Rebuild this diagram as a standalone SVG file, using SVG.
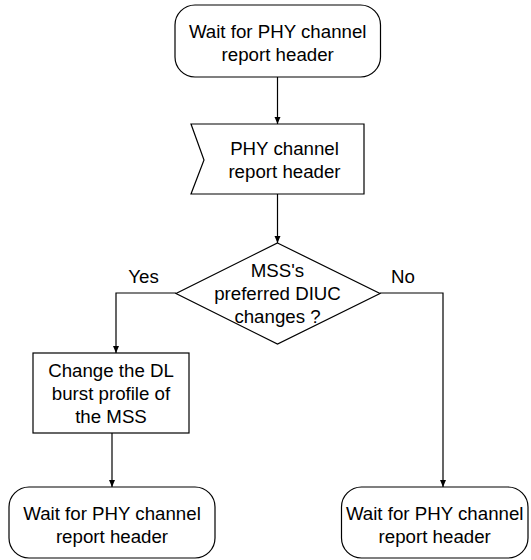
<svg xmlns="http://www.w3.org/2000/svg" width="531" height="560" viewBox="0 0 531 560">
<defs>
<marker id="ah" markerWidth="8" markerHeight="8" refX="7" refY="4" orient="auto" markerUnits="userSpaceOnUse">
<path d="M0,1 L7,4 L0,7 Z" fill="#000"/>
</marker>
<style>
.s{fill:#fff;stroke:#000;stroke-width:1.2}
.t{font-family:"Liberation Sans",Arial,sans-serif;font-size:18.7px;fill:#000;text-anchor:middle}
.c{fill:none;stroke:#000;stroke-width:1.2}
</style>
</defs>
<rect width="531" height="560" fill="#fff"/>
<g id="connectors">
<path class="c" d="M277.5,77 V124" marker-end="url(#ah)"/>
<path class="c" d="M277.5,194 V243" marker-end="url(#ah)"/>
<path class="c" d="M176,293 H116 V353" marker-end="url(#ah)"/>
<path class="c" d="M112,433 V487" marker-end="url(#ah)"/>
<path class="c" d="M380,293 H443 V487" marker-end="url(#ah)"/>
</g>
<g id="start">
<rect class="s" x="175" y="5" width="205.5" height="72" rx="20" ry="20"/>
<text class="t" x="277.7" y="38">Wait for PHY channel</text>
<text class="t" x="277.7" y="61">report header</text>
</g>
<g id="receive">
<path class="s" d="M191,124 H364 V194 H191 L204,160 Z"/>
<text class="t" x="284.5" y="155">PHY channel</text>
<text class="t" x="284.5" y="178">report header</text>
</g>
<g id="decision">
<path class="s" d="M277.5,243 L380,293.5 L277.5,344 L176,293.5 Z"/>
<text class="t" x="277.5" y="277">MSS's</text>
<text class="t" x="277.5" y="300">preferred DIUC</text>
<text class="t" x="277.5" y="323">changes ?</text>
</g>
<g id="labels">
<text class="t" x="143.5" y="283">Yes</text>
<text class="t" x="403" y="283">No</text>
</g>
<g id="change">
<rect class="s" x="33" y="353" width="156" height="80"/>
<text class="t" x="111" y="377">Change the DL</text>
<text class="t" x="111" y="400">burst profile of</text>
<text class="t" x="111" y="423">the MSS</text>
</g>
<g id="waitLeft">
<rect class="s" x="9" y="487" width="206" height="71" rx="20" ry="20"/>
<text class="t" x="112" y="520">Wait for PHY channel</text>
<text class="t" x="112" y="543">report header</text>
</g>
<g id="waitRight">
<rect class="s" x="341.5" y="487" width="186.5" height="71" rx="20" ry="20"/>
<text class="t" x="434.7" y="520">Wait for PHY channel</text>
<text class="t" x="434.7" y="543">report header</text>
</g>
</svg>
